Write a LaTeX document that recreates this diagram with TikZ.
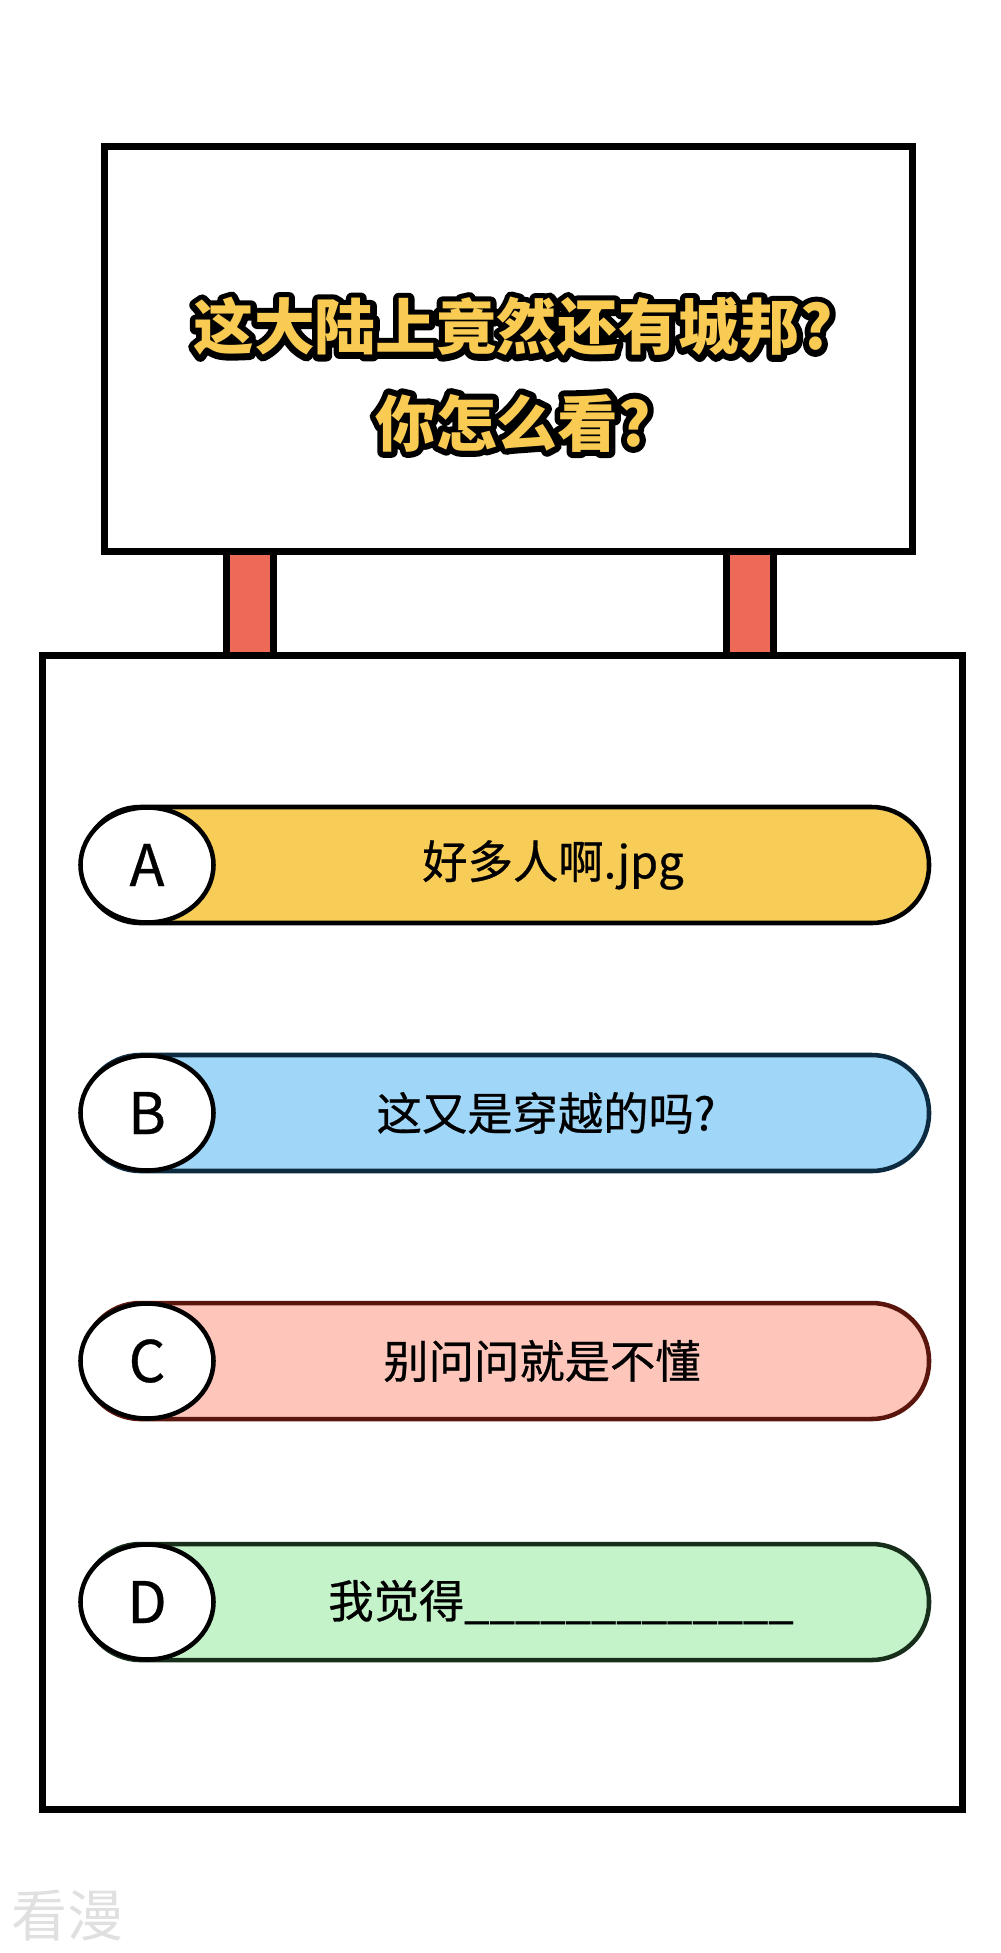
\documentclass[tikz,border=0pt]{standalone}
\usepackage{fontspec}
\usetikzlibrary{shapes.geometric}
\newfontfamily\cjk{Noto Sans CJK SC}
\newfontfamily\cjkmid[FakeBold=0.6]{Noto Sans CJK SC}
\definecolor{postred}{HTML}{EF6A56}
\definecolor{headyellow}{HTML}{F9CB53}
\definecolor{fillA}{HTML}{F7CD57}
\definecolor{fillB}{HTML}{A0D7F9}
\definecolor{fillC}{HTML}{FEC6BB}
\definecolor{fillD}{HTML}{C4F3CA}
\definecolor{lineB}{HTML}{0C2B40}
\definecolor{lineC}{HTML}{5A160C}
\definecolor{lineD}{HTML}{172E1A}
% stroke the glyph outlines (text render mode 2)
\newcommand{\outlined}[1]{\special{pdf:literal direct 2 Tr 9 w 1 j}#1\special{pdf:literal direct 0 Tr}}
\tikzset{
  board/.style={draw=black, line width=5.25pt, fill=white},
  post/.style={draw=black, line width=5.25pt, fill=postred},
  pill/.style={line width=3.4pt, minimum width=634.5pt, minimum height=87pt, rounded corners=43pt, inner sep=0pt},
  badge/.style={ellipse, draw=black, fill=white, line width=3.4pt, minimum width=99.75pt, minimum height=86.25pt, inner sep=0pt, font=\cjkmid\fontsize{43}{43}\selectfont},
  answer/.style={font=\cjkmid\fontsize{34}{40}\selectfont, inner sep=0pt},
  headline/.style={font=\cjk\bfseries\fontsize{45.5}{50}\selectfont, inner sep=0pt}
}

\begin{document}
\begin{tikzpicture}[x=0.75pt,y=0.75pt,yscale=-1,xscale=1]
\useasboundingbox (0,0) rectangle (1000,1953);

%Posts
\draw [post] (226.5,548) rectangle (273.5,658) ;
\draw [post] (726.5,548) rectangle (773.5,658) ;
%Sign board
\draw [board] (104.5,146.5) rectangle (912.5,551.5) ;
%Lower board
\draw [board] (42,655) rectangle (962,1809) ;

% Title
\node [headline, text=black] (head1out) at (513,327) {\outlined{这大陆上竟然还有城邦?}};
\node [headline, text=headyellow] (head1) at (513,327) {这大陆上竟然还有城邦?};
\node [headline, text=black] (head2out) at (513,423) {\outlined{你怎么看?}};
\node [headline, text=headyellow] (head2) at (513,423) {你怎么看?};

% Option A
\node [pill, draw=black, fill=fillA] (pillA) at (506,865) {};
\node [badge] (badgeA) at (147,865) {A};
\node [answer] (textA) at (553,865) {好多人啊.jpg};
% Option B
\node [pill, draw=lineB, fill=fillB] (pillB) at (506,1113) {};
\node [badge] (badgeB) at (147,1113) {B};
\node [answer] (textB) at (546,1113) {这又是穿越的吗?};
% Option C
\node [pill, draw=lineC, fill=fillC] (pillC) at (506,1361) {};
\node [badge] (badgeC) at (147,1361) {C};
\node [answer] (textC) at (542,1361) {别问问就是不懂};
% Option D
\node [pill, draw=lineD, fill=fillD] (pillD) at (506,1602) {};
\node [badge] (badgeD) at (147,1602) {D};
\node [answer, anchor=west] (textD) at (328,1602) {我觉得\_\_\_\_\_\_\_\_\_\_\_\_\_};

% Watermark
\node [font=\cjk\fontsize{42}{42}\selectfont, text=black!12, inner sep=0pt] (mark) at (68,1915) {看漫};

\end{tikzpicture}
\end{document}
